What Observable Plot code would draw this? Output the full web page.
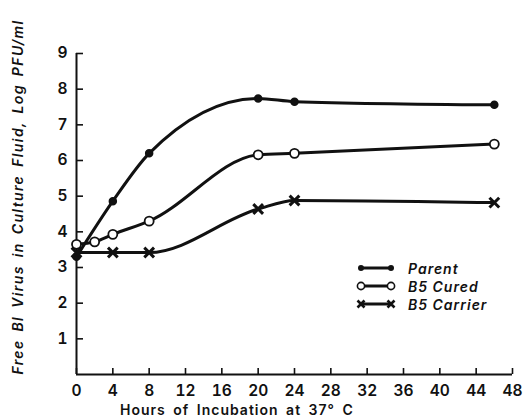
<!DOCTYPE html>
<html>
<head>
<meta charset="utf-8">
<script src="https://cdn.jsdelivr.net/npm/d3@7"></script>
<script src="https://cdn.jsdelivr.net/npm/@observablehq/plot@0.6"></script>
<style>
  html, body { margin: 0; padding: 0; background: #fff; }
  #wrap { position: relative; width: 523px; height: 420px; font-family: Inter, "DejaVu Sans", sans-serif; color: #111; }
  #wrap > svg { position: absolute; left: 0; top: 0; }
  #wrap > svg g[aria-label="x-axis tick label"] text,
  #wrap > svg g[aria-label="y-axis tick label"] text { font-size: 15.5px; font-weight: 600; fill: #111; }
  .ytitle { position: absolute; left: 18px; top: 197px; transform: translate(-50%, -50%) rotate(-90deg);
            white-space: nowrap; font-size: 14px; font-style: italic; font-weight: 600; letter-spacing: 1.4px; word-spacing: 3px; line-height: 16px; }
  .xtitle { position: absolute; left: 120px; top: 402px; white-space: nowrap; font-size: 14px; font-weight: 600; letter-spacing: 1px; word-spacing: 3px; line-height: 16px; }
  .legend { position: absolute; left: 356px; top: 259px; font-size: 14px; font-style: italic; font-weight: 600; letter-spacing: 1px; }
  .legend .row { display: flex; align-items: center; height: 18px; }
  .legend svg { display: block; margin-right: 12px; }
</style>
</head>
<body>
<div id="wrap"></div>
<script>
const parentHours = [0, 4, 8, 20, 24, 46];
const parentValues = [3.3, 4.86, 6.2, 7.74, 7.65, 7.56];
const curedHours = [0, 2, 4, 8, 20, 24, 46];
const curedValues = [3.65, 3.72, 3.93, 4.3, 6.16, 6.2, 6.46];
const carrierHours = [0, 4, 8, 20, 24, 46];
const carrierValues = [3.42, 3.42, 3.42, 4.64, 4.88, 4.82];
const seriesNames = ["Parent", "B5 Cured", "B5 Carrier"];
const xTicks = [0, 4, 8, 12, 16, 20, 24, 28, 32, 36, 40, 44, 48];
const yTicks = [1, 2, 3, 4, 5, 6, 7, 8, 9];
const yTitle = "Free Bl Virus in Culture Fluid, Log PFU/ml";
const xTitle = "Hours of Incubation at 37° C";

const toRows = (name, hs, vs) => hs.map((h, i) => ({series: name, hour: h, value: vs[i]}));
const parent = toRows(seriesNames[0], parentHours, parentValues);
const cured = toRows(seriesNames[1], curedHours, curedValues);
const carrier = toRows(seriesNames[2], carrierHours, carrierValues);
const all = [...parent, ...cured, ...carrier];

const chart = Plot.plot({
  width: 523,
  height: 420,
  marginLeft: 76,
  marginRight: 11,
  marginTop: 53,
  marginBottom: 46,
  style: {fontFamily: "Inter, 'DejaVu Sans', sans-serif", color: "#111"},
  x: {domain: [0, 48]},
  y: {domain: [0, 9]},
  marks: [
    Plot.axisX({ticks: xTicks, tickSize: -6, strokeWidth: 1.6, text: null, label: null}),
    Plot.axisX({ticks: xTicks, tickSize: 0, tickPadding: 10, label: null}),
    Plot.axisY({ticks: yTicks, tickSize: -7, strokeWidth: 1.6, text: null, label: null}),
    Plot.axisY({ticks: yTicks, tickSize: 0, tickPadding: 9, label: null}),
    Plot.ruleX([0], {stroke: "#111", strokeWidth: 2}),
    Plot.ruleY([0], {stroke: "#111", strokeWidth: 2}),
    Plot.line(all, {x: "hour", y: "value", z: "series", curve: "monotone-x", stroke: "#111", strokeWidth: 3}),
    Plot.dot(parent, {x: "hour", y: "value", r: 3.5, fill: "#111", stroke: "#111"}),
    Plot.dot(cured, {x: "hour", y: "value", r: 4.5, fill: "white", stroke: "#111", strokeWidth: 1.8}),
    Plot.dot(carrier, {x: "hour", y: "value", symbol: "times", r: 4.5, stroke: "#111", strokeWidth: 3})
  ]
});

const wrap = document.getElementById("wrap");
wrap.appendChild(chart);

const yt = document.createElement("div");
yt.className = "ytitle";
yt.textContent = yTitle;
wrap.appendChild(yt);

const xt = document.createElement("div");
xt.className = "xtitle";
xt.textContent = xTitle;
wrap.appendChild(xt);

const legend = document.createElement("div");
legend.className = "legend";
const sym = [
  (x) => `<circle cx="${x}" cy="7" r="3" fill="#111"/>`,
  (x) => `<circle cx="${x}" cy="7" r="3.6" fill="white" stroke="#111" stroke-width="1.6"/>`,
  (x) => `<path d="M${x-3.5},3.5L${x+3.5},10.5M${x-3.5},10.5L${x+3.5},3.5" stroke="#111" stroke-width="2.6"/>`
];
seriesNames.forEach((name, i) => {
  const row = document.createElement("div");
  row.className = "row";
  row.innerHTML = `<svg width="40" height="14"><line x1="5" y1="7" x2="35" y2="7" stroke="#111" stroke-width="3"/>${sym[i](5)}${sym[i](35)}</svg><span>${name}</span>`;
  legend.appendChild(row);
});
wrap.appendChild(legend);
</script>
</body>
</html>
